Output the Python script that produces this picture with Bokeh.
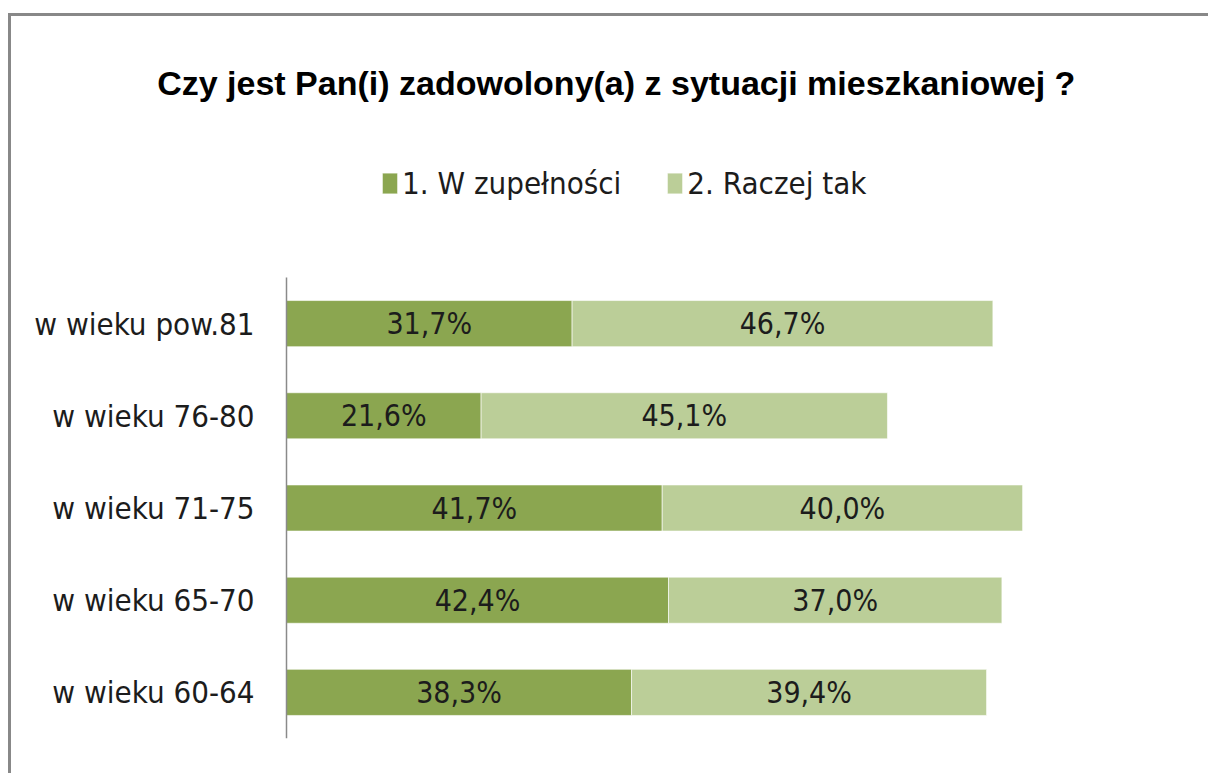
from bokeh.plotting import figure
from bokeh.models import Range1d, Label, Legend, LegendItem, ColumnDataSource, FixedTicker
from bokeh.core.properties import value
from bokeh.embed import file_html
from bokeh.resources import INLINE

title_text = "Czy jest Pan(i) zadowolony(a) z sytuacji mieszkaniowej ?"
categories = ["w wieku pow.81", "w wieku 76-80", "w wieku 71-75", "w wieku 65-70", "w wieku 60-64"]
series_names = ["1. W zupełności", "2. Raczej tak"]
w_zupelnosci = [31.7, 21.6, 41.7, 42.4, 38.3]
raczej_tak = [46.7, 45.1, 40.0, 37.0, 39.4]
colors = ["#8BA650", "#BBCE98"]

F_TITLE = "'Liberation Sans', Arial, sans-serif"
F_TEXT = "'DejaVu Sans Condensed', 'Liberation Sans', sans-serif"

def fmt(v):
    return f"{v:.1f}".replace(".", ",") + "%"

n = len(categories)
ypos = [n - i - 0.5 for i in range(n)]

src = ColumnDataSource(dict(
    y=ypos,
    s1_end=w_zupelnosci,
    s2_end=[a + b for a, b in zip(w_zupelnosci, raczej_tak)],
    s1_mid=[a / 2 for a in w_zupelnosci],
    s2_mid=[a + b / 2 for a, b in zip(w_zupelnosci, raczej_tak)],
    s1_lab=[fmt(v) for v in w_zupelnosci],
    s2_lab=[fmt(v) for v in raczej_tak],
))

p = figure(
    width=1200, height=760,
    y_range=Range1d(0, 7.831),
    x_range=Range1d(-30.52, 100),
    output_backend="svg", toolbar_location=None,
    min_border_left=0, min_border_right=24, min_border_top=0, min_border_bottom=38,
)
p.styles = {"border-top": "3px solid #888888", "border-left": "3px solid #888888",
            "margin-top": "13px", "margin-left": "8px"}
p.outline_line_color = None
p.xgrid.visible = False
p.ygrid.visible = False
p.xaxis.visible = False

r1 = p.hbar(y="y", left=0, right="s1_end", height=0.5, source=src,
            fill_color=colors[0], line_color="#ffffff", line_alpha=0.6)
r2 = p.hbar(y="y", left="s1_end", right="s2_end", height=0.5, source=src,
            fill_color=colors[1], line_color="#ffffff", line_alpha=0.6)

p.text(x="s1_mid", y="y", text="s1_lab", source=src, text_align="center",
       text_baseline="middle", text_font=value(F_TEXT), text_font_size="30px", text_color="#1c1c1c")
p.text(x="s2_mid", y="y", text="s2_lab", source=src, text_align="center",
       text_baseline="middle", text_font=value(F_TEXT), text_font_size="30px", text_color="#1c1c1c")

yax = p.yaxis[0]
yax.fixed_location = 0
yax.ticker = FixedTicker(ticks=ypos)
yax.major_label_overrides = {y: c for y, c in zip(ypos, categories)}
yax.bounds = (0, n)
yax.axis_line_color = "#8a8a8a"
yax.axis_line_width = 1.5
yax.major_tick_line_color = None
yax.minor_tick_line_color = None
yax.major_tick_out = 0
yax.major_label_standoff = 32
yax.major_label_text_font = F_TEXT
yax.major_label_text_font_size = "31px"
yax.major_label_text_color = "#1c1c1c"

p.add_layout(Label(x=36.6, y=7.11, text=title_text, text_align="center", text_baseline="middle",
                   text_font=F_TITLE, text_font_style="bold", text_font_size="34px", text_color="#000000"))

legend = Legend(items=[LegendItem(label=series_names[0], renderers=[r1]),
                       LegendItem(label=series_names[1], renderers=[r2])],
                location=(369, 537), orientation="horizontal",
                glyph_width=19, glyph_height=26, label_standoff=3, spacing=44,
                padding=0, margin=0, border_line_alpha=0, background_fill_alpha=0,
                label_text_font=F_TEXT, label_text_font_size="31px", label_text_color="#1c1c1c",
                label_text_baseline="middle")
p.add_layout(legend, "center")

open("out.html", "w").write(file_html(p, INLINE))
